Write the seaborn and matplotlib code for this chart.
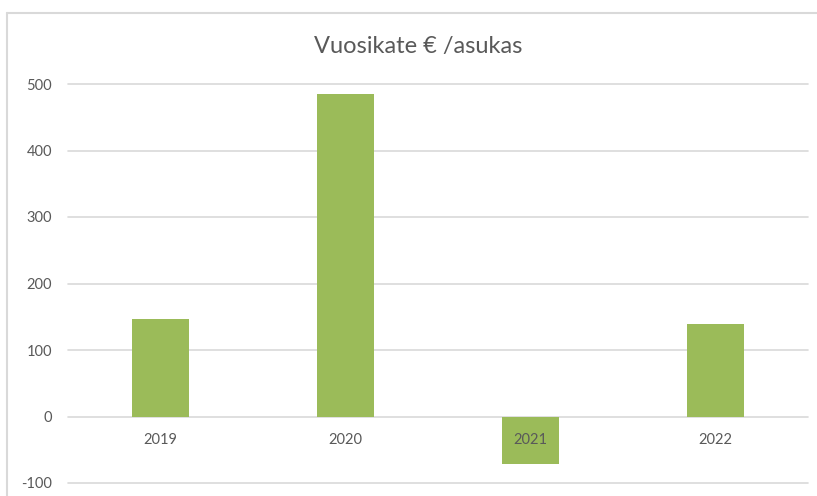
import matplotlib
matplotlib.use('Agg')
import matplotlib.pyplot as plt
from matplotlib.lines import Line2D
import pandas as pd
import seaborn as sns

# Tiedot
vuodet = ['2019', '2020', '2021', '2022']
vuosikate = [146, 485, -72, 139]
y_tikit = [-100, 0, 100, 200, 300, 400, 500]

datos = pd.DataFrame({'Vuosi': vuodet, 'Vuosikate': vuosikate})

sns.set_style('white')
plt.rcParams['font.family'] = ['Lato', 'DejaVu Sans']
plt.rcParams['axes.unicode_minus'] = False

fig = plt.figure(figsize=(8.17, 4.96), dpi=100)
ax = fig.add_axes([68 / 817, 1 - 483 / 496, 740 / 817, 399 / 496])

sns.barplot(data=datos, x='Vuosi', y='Vuosikate', color='#9BBB59',
            saturation=1, width=0.313, linewidth=0, ax=ax, zorder=3)

ax.set_ylim(-100, 500)
ax.set_yticks(y_tikit)
ax.grid(axis='y', color='#D9D9D9', linewidth=1.2, zorder=0)
ax.set_axisbelow(True)
for gl in ax.get_ygridlines():
    gl.set_clip_on(False)

for s in ['top', 'right', 'left']:
    ax.spines[s].set_visible(False)
ax.spines['bottom'].set_position(('data', 0))
ax.spines['bottom'].set_visible(False)

ax.tick_params(axis='y', length=0, pad=11.5, labelsize=10.5, labelcolor='#595959')
ax.tick_params(axis='x', length=0, pad=12, labelsize=10.5, labelcolor='#595959')
ax.xaxis.set_zorder(5)
ax.set_xlabel('')
ax.set_ylabel('')

fig.text(418 / 817, 1 - 47 / 496, 'Vuosikate € /asukas', ha='center', va='center',
         fontsize=17, color='#595959')

# Kaavion reunat
fig.add_artist(Line2D([7 / 817, 7 / 817], [0, 1 - 13 / 496], color='#D9D9D9', lw=1.5))
fig.add_artist(Line2D([7 / 817, 1], [1 - 13 / 496, 1 - 13 / 496], color='#D9D9D9', lw=1.5))

fig.savefig('out.png', dpi=100)
